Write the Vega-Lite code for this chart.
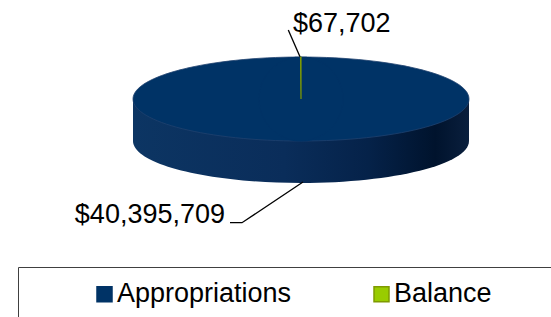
{
  "$schema": "https://vega.github.io/schema/vega-lite/v6.json",
  "width": 500,
  "height": 198,
  "autosize": {"type": "none"},
  "padding": {"left": 51, "top": 0, "right": 0, "bottom": 119},
  "background": "white",
  "config": {
    "view": {"stroke": null},
    "font": "Liberation Sans",
    "text": {"font": "Liberation Sans"}
  },
  "data": {
    "values": [
      {"category": "Appropriations", "value": 40395709},
      {"category": "Balance", "value": 67702}
    ]
  },
  "layer": [
    {
      "transform": [{"aggregate": [{"op": "sum", "field": "value", "as": "total"}]}],
      "mark": {
        "type": "point",
        "shape": "M -1.68155 1.5 L -1.68155 1.003 L 1.7 1.003",
        "size": 112896,
        "filled": false,
        "opacity": 1,
        "stroke": "#404040",
        "strokeWidth": 1
      },
      "encoding": {}
    },
    {
      "transform": [{"aggregate": [{"op": "sum", "field": "value", "as": "total"}]}],
      "mark": {
        "type": "point",
        "shape": "M -1 0 L -1 0.25 C -1 0.3881 -0.5523 0.5 0 0.5 C 0.5523 0.5 1 0.3881 1 0.25 L 1 0 Z",
        "size": 112896,
        "filled": true,
        "opacity": 1,
        "strokeWidth": 0,
        "fill": {
          "gradient": "linear",
          "x1": 0, "y1": 0, "x2": 1, "y2": 0,
          "stops": [
            {"offset": 0, "color": "#0c3563"},
            {"offset": 0.45, "color": "#0a2d5a"},
            {"offset": 0.7, "color": "#052249"},
            {"offset": 0.9, "color": "#00132d"},
            {"offset": 1, "color": "#0a1f3d"}
          ]
        }
      },
      "encoding": {}
    },
    {
      "transform": [{"aggregate": [{"op": "sum", "field": "value", "as": "total"}]}],
      "mark": {
        "type": "point",
        "shape": "M -1 0 C -1 -0.1381 -0.5523 -0.25 0 -0.25 C 0.5523 -0.25 1 -0.1381 1 0 C 1 0.1381 0.5523 0.25 0 0.25 C -0.5523 0.25 -1 0.1381 -1 0 Z",
        "size": 112896,
        "filled": true,
        "opacity": 1,
        "fill": "#003366",
        "stroke": "#1f416f",
        "strokeWidth": 0.8
      },
      "encoding": {}
    },
    {
      "mark": {"type": "arc", "radius": 42, "strokeWidth": 1.2},
      "encoding": {
        "theta": {"field": "value", "type": "quantitative", "stack": true},
        "color": {
          "field": "category",
          "type": "nominal",
          "scale": {"domain": ["Appropriations", "Balance"], "range": ["#003366", "#99cc00"]},
          "legend": {
            "title": null,
            "orient": "none",
            "legendX": -33,
            "legendY": 267.5,
            "direction": "horizontal",
            "columns": 2,
            "symbolType": "square",
            "symbolSize": 225,
            "symbolStrokeWidth": 1.5,
            "symbolOpacity": 1,
            "labelFont": "Liberation Sans",
            "labelFontSize": 27,
            "labelColor": "#000000",
            "labelLimit": 400,
            "padding": 13,
            "symbolOffset": 60,
            "labelOffset": -1,
            "columnPadding": 16
          }
        },
        "stroke": {
          "field": "category",
          "type": "nominal",
          "scale": {"domain": ["Appropriations", "Balance"], "range": ["#003366", "#7f9a00"]},
          "legend": null
        }
      }
    },
    {
      "transform": [{"filter": "datum.category == 'Balance'"}],
      "mark": {
        "type": "point",
        "shape": "M -0.0756 -0.4107 L -0.006 -0.2518",
        "size": 112896,
        "filled": false,
        "opacity": 1,
        "stroke": "#000000",
        "strokeWidth": 1.3
      },
      "encoding": {}
    },
    {
      "transform": [{"filter": "datum.category == 'Appropriations'"}],
      "mark": {
        "type": "point",
        "shape": "M -0.4226 0.7363 L -0.3512 0.7363 L 0.0119 0.494",
        "size": 112896,
        "filled": false,
        "opacity": 1,
        "stroke": "#000000",
        "strokeWidth": 1.3
      },
      "encoding": {}
    },
    {
      "transform": [{"filter": "datum.category == 'Balance'"}],
      "mark": {"type": "text", "align": "left", "baseline": "alphabetic", "dx": -8, "dy": -67, "fontSize": 27, "color": "#000000"},
      "encoding": {"text": {"field": "value", "type": "quantitative", "format": "$,.0f"}}
    },
    {
      "transform": [{"filter": "datum.category == 'Appropriations'"}],
      "mark": {"type": "text", "align": "right", "baseline": "alphabetic", "dx": -76, "dy": 124, "fontSize": 27, "color": "#000000"},
      "encoding": {"text": {"field": "value", "type": "quantitative", "format": "$,.0f"}}
    }
  ]
}
